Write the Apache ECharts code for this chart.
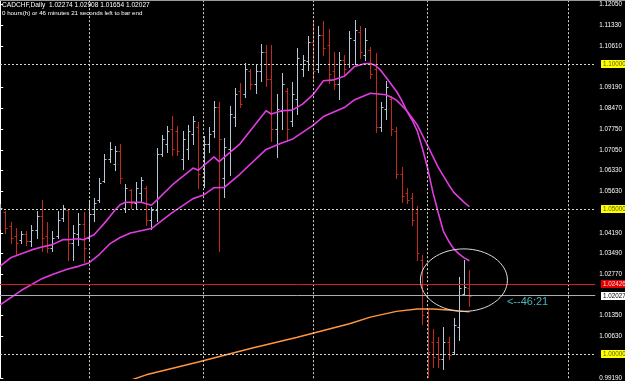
<!DOCTYPE html>
<html><head><meta charset="utf-8">
<script src="https://cdn.jsdelivr.net/npm/echarts@6/dist/echarts.min.js"></script>
<style>html,body{margin:0;padding:0;background:#000;overflow:hidden}#c{width:625px;height:381px}</style>
</head><body><div id="c"></div>
<script>
const symbolTitle = 'CADCHF,Daily  1.02274 1.02908 1.01654 1.02027';
const timerText = '0 hours(h) or 46 minutes 21 seconds left to bar end';
const countdownText = '<--46:21';

const opens = [
1.04491,1.04901,1.04423,1.04081,1.03944,1.04149,1.03910,1.04286,1.04764,1.04081,
1.03671,1.04081,1.04695,1.04970,1.03842,1.04149,1.04491,1.04013,1.04832,1.05311,
1.05960,1.06745,1.06575,1.07018,1.05038,1.05653,1.05209,1.05550,1.05721,1.04627,
1.04970,1.06916,1.07258,1.07770,1.07702,1.06745,1.07087,1.07599,1.07839,1.06131,
1.07258,1.07702,1.08522,1.06063,1.07087,1.08180,1.09068,1.08966,1.09751,1.09307,
1.09751,1.10435,1.09478,1.07770,1.08385,1.09068,1.08043,1.08795,1.09820,1.10093,
1.10776,1.09820,1.11015,1.10674,1.09751,1.09307,1.10161,1.09991,1.10845,1.11118,
1.10332,1.10503,1.09820,1.07839,1.08453,1.08795,1.07702,1.06233,1.05550,1.05379,
1.04867,1.03261,1.01280,1.00426,1.00426,0.99845,1.00426,1.00084,1.00938,1.02100,
1.02274];
const highs = [
1.05174,1.04946,1.04559,1.04354,1.04252,1.04252,1.04467,1.04935,1.05321,1.04559,
1.04241,1.04935,1.05150,1.04980,1.04467,1.04867,1.04925,1.05321,1.05379,1.06063,
1.06916,1.07316,1.07166,1.07234,1.05868,1.05697,1.05950,1.06120,1.05814,1.05096,
1.07121,1.07565,1.07862,1.08224,1.07883,1.07712,1.07907,1.08204,1.08009,1.07521,
1.07839,1.08737,1.08703,1.07453,1.08546,1.09195,1.09366,1.10049,1.09844,1.09991,
1.10708,1.10674,1.10674,1.08966,1.09707,1.09195,1.09386,1.10561,1.10332,1.10981,
1.11436,1.11323,1.11494,1.11210,1.10411,1.10411,1.10332,1.11128,1.11528,1.11299,
1.11244,1.10595,1.10390,1.08682,1.09420,1.08908,1.07839,1.06462,1.05721,1.05550,
1.05106,1.03432,1.01553,1.00880,1.00597,1.00938,1.00597,1.01246,1.02680,1.03244,
1.02908];
const lows = [
1.04330,1.04183,1.03842,1.03442,1.03842,1.03784,1.03729,1.04013,1.03558,1.03534,
1.03558,1.04013,1.04583,1.03271,1.03271,1.03784,1.03193,1.03900,1.04583,1.05266,
1.05950,1.06633,1.06346,1.05916,1.04901,1.05062,1.05038,1.05287,1.04446,1.04330,
1.04583,1.06838,1.06974,1.06858,1.06882,1.06404,1.06745,1.07258,1.05721,1.05779,
1.06984,1.07487,1.03558,1.05437,1.06175,1.07883,1.08512,1.08853,1.09137,1.09024,
1.09420,1.09249,1.07371,1.06804,1.07770,1.07371,1.07883,1.08283,1.09591,1.09786,
1.09478,1.09717,1.10332,1.09366,1.09137,1.08795,1.09649,1.09906,1.09991,1.10230,
1.10161,1.09536,1.07658,1.07685,1.08112,1.07565,1.06063,1.05266,1.05209,1.04467,
1.03261,1.01041,0.99230,0.99572,0.99572,0.99503,0.99828,1.00026,1.00484,1.02048,
1.01654];
const closes = [
1.05038,1.04354,1.04013,1.03842,1.04149,1.03910,1.04286,1.04764,1.04013,1.03671,
1.04013,1.04627,1.05038,1.03842,1.04183,1.04491,1.03671,1.04832,1.05209,1.05892,
1.06745,1.07087,1.07018,1.06063,1.05721,1.05209,1.05721,1.05994,1.04627,1.04970,
1.06916,1.07429,1.07702,1.07087,1.07018,1.07429,1.07702,1.08043,1.06233,1.07258,
1.07599,1.08522,1.07429,1.07155,1.08283,1.08966,1.08624,1.09820,1.09307,1.09751,
1.10435,1.09478,1.07770,1.08453,1.09307,1.07770,1.08966,1.10230,1.10161,1.10776,
1.09751,1.11015,1.10571,1.09649,1.09307,1.10161,1.09820,1.10913,1.11186,1.10435,
1.10845,1.09649,1.07839,1.08522,1.09205,1.07770,1.06233,1.05448,1.05311,1.04627,
1.03500,1.01348,1.00084,0.99913,0.99845,1.00426,0.99982,1.01007,1.02305,1.02339,
1.02027];

// moving averages: [bar index, price]
const maFast = [[0,1.03046],[2,1.03329],[6,1.03603],[8,1.03705],[10,1.03784],[12,1.03955],[13,1.03955],[15,1.03989],[16,1.03955],[18,1.04125],[19,1.04320],[20,1.04525],[21,1.04747],[22,1.04970],[23,1.05157],[24,1.05242],[27,1.05242],[29,1.05140],[30,1.05311],[33,1.05840],[37,1.06421],[38,1.06346],[41,1.06804],[42,1.06643],[46,1.07258],[51,1.08395],[52,1.08283],[54,1.08395],[56,1.08419],[58,1.08624],[60,1.08949],[62,1.09427],[64,1.09461],[66,1.09581],[68,1.09922],[69,1.09974],[70,1.10025],[71,1.10025],[72,1.09956],[73,1.09786],[74,1.09547],[75,1.09307],[76,1.09068],[77,1.08761],[78,1.08385],[79,1.08078],[80,1.07702],[81,1.07087],[82,1.06404],[83,1.05584],[84,1.04901],[85,1.04252],[86,1.03910],[87,1.03637],[88,1.03466],[89,1.03329],[90,1.03227]];
const maSlow = [[0,1.01714],[4,1.02202],[8,1.02612],[10,1.02756],[13,1.02947],[15,1.03036],[17,1.03152],[19,1.03442],[21,1.03808],[23,1.04030],[25,1.04183],[29,1.04337],[33,1.04884],[37,1.05369],[39,1.05492],[41,1.05745],[43,1.05755],[46,1.06216],[51,1.07063],[54,1.07285],[56,1.07412],[60,1.07890],[62,1.08197],[66,1.08505],[68,1.08778],[71,1.09000],[74,1.08949],[75,1.08863],[76,1.08761],[78,1.08395],[80,1.07907],[82,1.07190],[84,1.06455],[86,1.05857],[87,1.05584],[88,1.05413],[89,1.05242],[90,1.05089]];
const maLong = [[23,0.98991],[28,0.99299],[38,0.99743],[48,1.00204],[57,1.00597],[67,1.01058],[71,1.01287],[76,1.01485],[80,1.01563],[83,1.01563],[86,1.01529],[89,1.01485],[90,1.01468]];

const tickLabels = [1.12050,1.11330,1.10610,1.09190,1.08470,1.07750,1.07050,1.06330,1.05630,1.04190,1.03490,1.02770,1.01350,1.00630,0.99190];
const levelLines = [1.10000,1.05000,1.00000];
const redLevel = 1.02426;
const bidLevel = 1.02027;
const separators = [17,39,60,82,109];
const countdownAt = [97.2,1.01826];
const ellipseBox = {x:[80.6,97.3], y:[1.01485,1.03637]};

const UP = '#b4c6d8', DOWN = '#c42a1c';

const chart = echarts.init(document.getElementById('c'), null, {renderer:'canvas'});

function renderBar(params, api){
  const i = api.value(0);
  const o = api.coord([i, api.value(1)]);
  const h = api.coord([i, api.value(2)]);
  const l = api.coord([i, api.value(3)]);
  const c = api.coord([i, api.value(4)]);
  const color = api.value(4) >= api.value(1) ? UP : DOWN;
  const x = Math.round(h[0]) + 0.5;
  const yo = Math.round(o[1]) + 0.5, yc = Math.round(c[1]) + 0.5;
  const style = {stroke: color, lineWidth: 1};
  return {type:'group', children:[
    {type:'line', shape:{x1:x, y1:Math.round(h[1]), x2:x, y2:Math.round(l[1])+1}, style},
    {type:'line', shape:{x1:x-2, y1:yo, x2:x, y2:yo}, style},
    {type:'line', shape:{x1:x, y1:yc, x2:x+2, y2:yc}, style}
  ]};
}

const gridLine = {type:[2,2], color:'#d8d8c8', width:1};
const markData = [];
levelLines.forEach(v => markData.push({yAxis:v, lineStyle:gridLine}));
separators.forEach(v => markData.push({xAxis:v, lineStyle:gridLine}));

function levelSeries(v, color){
  return {type:'line', data:[], silent:true, z:2,
    markLine:{silent:true, precision:6, symbol:['none','none'], label:{show:false},
      lineStyle:{type:'solid', color:color, width:1},
      data:[{yAxis:v}]}};
}

const option = {
  backgroundColor:'#000',
  animation:false,
  grid:{left:0, right:25, top:0, bottom:0, containLabel:false},
  xAxis:{type:'value', min:-0.04, max:114.14, show:false},
  yAxis:{type:'value', position:'right', min:0.99185, max:1.12211, scale:true,
    axisLine:{show:true, lineStyle:{color:'#ffffff', width:1}},
    axisTick:{show:true, length:3, customValues:tickLabels, lineStyle:{color:'#ffffff'}},
    axisLabel:{show:true, customValues:tickLabels, margin:4, color:'#ffffff', fontSize:6.3,
      fontFamily:'Liberation Sans', formatter:v => v.toFixed(5)},
    splitLine:{show:false}},
  series:[
    {type:'line', data:[], silent:true, z:1,
      markLine:{silent:true, precision:6, symbol:['none','none'], label:{show:false}, data:markData}},
    levelSeries(redLevel, '#d42020'),
    levelSeries(bidLevel, '#a8aeb4'),
    {type:'custom', renderItem:renderBar, z:3, silent:true, clip:true,
      encode:{x:0, y:[1,2,3,4]},
      data:opens.map((o,i)=>[i,o,highs[i],lows[i],closes[i]])},
    {type:'line', data:maLong, showSymbol:false, silent:true, z:4, clip:true,
      lineStyle:{color:'#ff9640', width:1.5}},
    {type:'line', data:maSlow, showSymbol:false, silent:true, z:4,
      lineStyle:{color:'#e03ce0', width:1.6}},
    {type:'line', data:maFast, showSymbol:false, silent:true, z:4,
      lineStyle:{color:'#e03ce0', width:1.6}}
  ]
};
chart.setOption(option);

function px(x,y){ return chart.convertToPixel({gridIndex:0},[x,y]); }
const g = [];
g.push({type:'rect', shape:{x:0,y:0,width:625,height:1}, style:{fill:'#9a9a9a'}, z:100});
g.push({type:'text', x:2, y:5, style:{text:symbolTitle, fill:'#ffffff', font:'6.6px "Liberation Sans"', verticalAlign:'middle'}, z:100});
g.push({type:'text', x:2, y:13, style:{text:timerText, fill:'#ffffff', font:'6.2px "Liberation Sans"', verticalAlign:'middle'}, z:100});
const p1 = px(ellipseBox.x[0], ellipseBox.y[1]);
const p2 = px(ellipseBox.x[1], ellipseBox.y[0]);
g.push({type:'ellipse', shape:{cx:(p1[0]+p2[0])/2, cy:(p1[1]+p2[1])/2, rx:(p2[0]-p1[0])/2, ry:(p2[1]-p1[1])/2},
  style:{fill:null, stroke:'#dcdcdc', lineWidth:1}, z:50});
const cp = px(countdownAt[0], countdownAt[1]);
g.push({type:'text', x:cp[0], y:cp[1], style:{text:countdownText, fill:'#4cb4bc', font:'11px "Liberation Sans"', verticalAlign:'middle'}, z:60});
function box(v, bg, fg){
  const y = Math.round(px(0, v)[1]);
  g.push({type:'rect', shape:{x:601, y:y-4, width:24, height:8}, style:{fill:bg}, z:90});
  g.push({type:'text', x:603, y:y, style:{text:v.toFixed(5), fill:fg, font:'6.3px "Liberation Sans"', verticalAlign:'middle'}, z:91});
}
levelLines.forEach(v => box(v, '#ffff00', '#5a5a00'));
box(redLevel, '#e00000', '#ffd8d8');
box(bidLevel, '#ffffff', '#000000');
chart.setOption({graphic:g});
</script></body></html>
